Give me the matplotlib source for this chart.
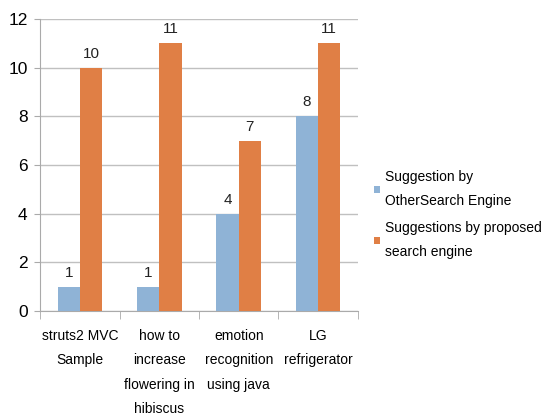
import matplotlib.pyplot as plt
import numpy as np

categories = ['struts2 MVC\nSample', 'how to\nincrease\nflowering in\nhibiscus',
              'emotion\nrecognition\nusing java', 'LG\nrefrigerator']
other_engine = [1, 1, 4, 8]
proposed_engine = [10, 11, 7, 11]
series_names = ['Suggestion by\nOtherSearch Engine', 'Suggestions by proposed\nsearch engine']

plt.rcParams['font.family'] = ['Liberation Sans', 'DejaVu Sans']

fig = plt.figure(figsize=(5.43, 4.18), dpi=100)
ax = fig.add_axes([0.074, 0.256, 0.585, 0.699])

x = np.arange(len(categories))
w = 0.28
b1 = ax.bar(x - w / 2, other_engine, w, color='#8fb3d6', label=series_names[0], zorder=3)
b2 = ax.bar(x + w / 2, proposed_engine, w, color='#e07f45', label=series_names[1], zorder=3)
ax.bar_label(b1, padding=5, fontsize=11, color='#222222')
ax.bar_label(b2, padding=5, fontsize=11, color='#222222')

ax.set_xlim(-0.5, len(categories) - 0.5)
ax.set_ylim(0, 12)
ax.set_yticks(range(0, 13, 2))
ax.yaxis.grid(True, color='#c0c0c0', linewidth=1, zorder=0)
ax.set_axisbelow(True)

ax.set_xticks(x)
ax.set_xticklabels(categories, fontsize=10, linespacing=1.95)
ax.tick_params(axis='x', length=0, pad=13)
ax.set_xticks(np.arange(len(categories) + 1) - 0.5, minor=True)
ax.tick_params(axis='x', which='minor', length=6, color='#aaaaaa')
ax.tick_params(axis='y', length=4, color='#aaaaaa', labelsize=12.5, pad=5)

for side in ['top', 'right']:
    ax.spines[side].set_visible(False)
ax.spines['left'].set_color('#aaaaaa')
ax.spines['bottom'].set_color('#aaaaaa')

leg = ax.legend(loc='center left', bbox_to_anchor=(1.01, 0.33), frameon=False,
                fontsize=10, handlelength=0.45, handleheight=0.45, handletextpad=0.35,
                labelspacing=0.95)
for t in leg.get_texts():
    t.set_linespacing(1.9)

fig.savefig('out.png', dpi=100)
